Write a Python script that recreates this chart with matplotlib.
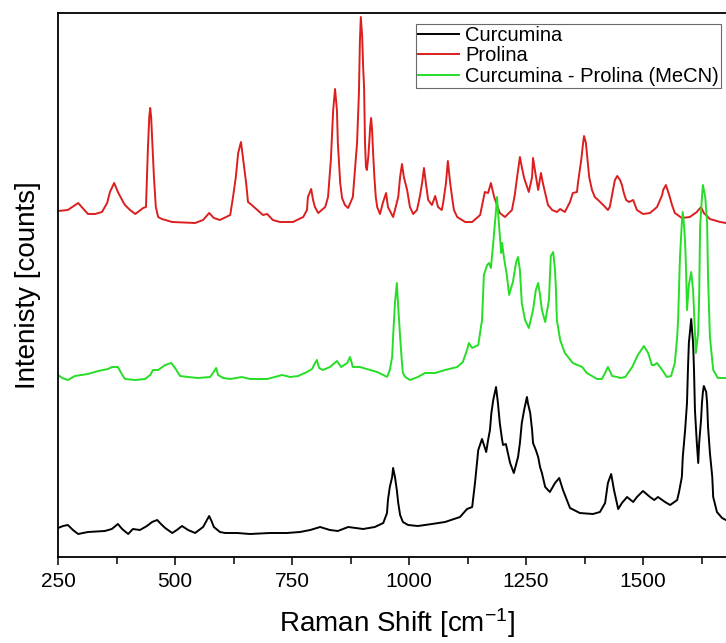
import matplotlib
matplotlib.use("Agg")
import matplotlib.pyplot as plt
from matplotlib.ticker import MultipleLocator

plt.rcParams['font.family'] = ['Liberation Sans', 'DejaVu Sans']
plt.rcParams['mathtext.default'] = 'regular'

# Raman spectra as (wavenumber cm^-1, intensity a.u.) pairs, offset stacked
prolina = [
    (250, 346), (271, 347), (293, 354), (314, 343), (329, 343), (344, 345), (355, 354),
    (361, 365), (370, 374), (378, 365), (387, 357), (393, 352), (404, 347), (415, 343),
    (432, 349), (438, 350), (442, 407), (445, 440), (447, 449), (449, 440), (451, 420),
    (455, 380), (459, 350), (464, 340), (472, 338), (494, 335), (543, 334), (560, 337),
    (573, 344), (583, 339), (596, 337), (618, 342), (624, 360), (630, 380), (635, 404),
    (641, 415), (645, 400), (652, 374), (656, 355), (664, 352), (688, 342), (697, 343),
    (709, 337), (724, 335), (752, 335), (774, 340), (782, 347), (784, 360), (791, 368),
    (795, 357), (799, 350), (806, 344), (821, 350), (827, 360), (833, 397), (838, 447),
    (842, 468), (846, 447), (848, 414), (853, 374), (857, 359), (863, 352), (870, 349),
    (880, 360), (889, 414), (893, 464), (895, 514), (897, 540), (900, 520), (902, 490),
    (904, 470), (906, 414), (908, 390), (910, 387), (913, 400), (915, 414), (917, 430),
    (919, 439), (921, 428), (923, 407), (926, 380), (929, 360), (932, 350), (938, 343),
    (944, 354), (951, 364), (955, 350), (966, 340), (970, 347), (977, 360), (981, 380),
    (985, 393), (989, 380), (996, 367), (1002, 350), (1009, 343), (1017, 347), (1023, 360),
    (1028, 374), (1032, 389), (1036, 374), (1041, 357), (1049, 352), (1056, 361),
    (1062, 350), (1070, 347), (1073, 354), (1079, 374), (1083, 396), (1088, 374),
    (1092, 360), (1096, 347), (1103, 340), (1120, 335), (1135, 335), (1152, 342),
    (1162, 365), (1169, 364), (1175, 374), (1182, 360), (1194, 344), (1205, 340),
    (1220, 347), (1226, 362), (1231, 380), (1237, 400), (1241, 390), (1246, 379),
    (1256, 365), (1263, 380), (1265, 399), (1269, 387), (1276, 367), (1282, 384),
    (1286, 374), (1291, 364), (1297, 352), (1306, 347), (1316, 345), (1323, 348),
    (1333, 345), (1344, 355), (1350, 364), (1359, 365), (1361, 374), (1368, 397),
    (1372, 414), (1374, 421), (1378, 414), (1380, 404), (1385, 380), (1391, 367),
    (1397, 360), (1404, 357), (1415, 352), (1425, 347), (1429, 350), (1436, 367),
    (1440, 377), (1445, 381), (1451, 377), (1455, 372), (1459, 364), (1464, 357),
    (1470, 355), (1479, 357), (1487, 347), (1500, 343), (1515, 344), (1530, 350),
    (1541, 362), (1543, 367), (1549, 372), (1551, 369), (1556, 362), (1562, 352),
    (1568, 344), (1583, 339), (1600, 340), (1615, 345), (1624, 350), (1630, 344),
    (1643, 338), (1665, 335), (1677, 334),
]

curcumina_prolina_mecn = [
    (250, 182), (259, 179), (271, 177), (286, 181), (314, 183), (336, 186), (357, 188),
    (365, 190), (372, 190), (378, 190), (385, 184), (393, 178), (415, 177), (436, 178),
    (447, 182), (453, 187), (464, 187), (479, 192), (492, 194), (500, 189), (511, 181),
    (528, 180), (549, 179), (575, 180), (581, 184), (588, 189), (592, 182), (603, 179),
    (618, 178), (643, 180), (660, 178), (697, 178), (729, 182), (746, 180), (763, 181),
    (782, 185), (793, 188), (797, 192), (803, 197), (808, 189), (816, 187), (831, 190),
    (846, 196), (855, 190), (868, 194), (874, 200), (880, 190), (895, 190), (910, 188),
    (932, 185), (945, 182), (953, 180), (959, 187), (964, 200), (966, 220), (970, 254),
    (974, 274), (977, 250), (981, 220), (985, 194), (987, 184), (992, 180), (1002, 177),
    (1019, 180), (1034, 184), (1056, 184), (1077, 187), (1103, 190), (1115, 195),
    (1124, 207), (1128, 214), (1135, 209), (1148, 212), (1156, 237), (1160, 282),
    (1167, 292), (1171, 294), (1175, 289), (1180, 314), (1186, 347), (1188, 360),
    (1192, 334), (1197, 304), (1199, 314), (1203, 299), (1209, 282), (1214, 262),
    (1218, 269), (1222, 275), (1229, 295), (1233, 300), (1237, 287), (1241, 254),
    (1248, 237), (1256, 229), (1265, 247), (1271, 267), (1276, 274), (1280, 262),
    (1284, 247), (1291, 235), (1299, 257), (1303, 301), (1308, 305), (1312, 287),
    (1314, 267), (1316, 237), (1323, 217), (1333, 204), (1350, 194), (1370, 190),
    (1380, 184), (1402, 178), (1412, 178), (1419, 184), (1425, 190), (1434, 181),
    (1445, 180), (1451, 179), (1462, 180), (1477, 190), (1489, 202), (1502, 211),
    (1511, 204), (1519, 192), (1524, 192), (1530, 194), (1541, 187), (1551, 180),
    (1560, 181), (1568, 194), (1573, 220), (1575, 237), (1577, 270), (1579, 300),
    (1583, 334), (1585, 345), (1588, 330), (1590, 314), (1592, 287), (1594, 247),
    (1598, 272), (1603, 285), (1607, 267), (1613, 204), (1618, 225), (1620, 260),
    (1622, 330), (1626, 360), (1628, 372), (1633, 360), (1637, 334), (1639, 280),
    (1643, 220), (1650, 187), (1660, 179), (1677, 179),
]

curcumina = [
    (250, 29), (261, 31), (271, 32), (282, 27), (293, 23), (314, 25), (350, 26), (365, 28),
    (378, 33), (387, 28), (400, 23), (410, 28), (425, 27), (440, 31), (451, 35), (462, 37),
    (470, 33), (479, 29), (494, 24), (504, 27), (515, 31), (528, 27), (543, 24), (560, 30),
    (567, 36), (573, 41), (578, 36), (583, 30), (596, 25), (607, 24), (633, 24), (660, 23),
    (703, 24), (739, 24), (767, 25), (789, 27), (810, 30), (831, 27), (848, 26), (870, 30),
    (902, 28), (927, 30), (945, 34), (953, 44), (955, 57), (959, 70), (964, 80), (966, 89),
    (970, 80), (974, 67), (977, 54), (981, 42), (987, 35), (998, 32), (1019, 31),
    (1049, 33), (1077, 35), (1109, 40), (1124, 48), (1135, 50), (1141, 74), (1148, 107),
    (1156, 118), (1165, 105), (1169, 117), (1173, 127), (1176, 144), (1180, 157),
    (1186, 170), (1190, 154), (1194, 134), (1199, 117), (1201, 112), (1207, 113),
    (1216, 94), (1224, 84), (1233, 100), (1237, 114), (1241, 134), (1246, 147),
    (1252, 160), (1254, 154), (1259, 144), (1263, 127), (1265, 114), (1271, 107),
    (1276, 100), (1280, 90), (1284, 84), (1291, 70), (1301, 65), (1312, 74), (1321, 79),
    (1329, 67), (1344, 49), (1365, 44), (1393, 43), (1408, 45), (1419, 54), (1425, 74),
    (1432, 83), (1438, 67), (1447, 48), (1455, 54), (1466, 60), (1479, 55), (1487, 60),
    (1500, 66), (1515, 60), (1524, 57), (1532, 60), (1547, 55), (1558, 52), (1573, 57),
    (1577, 65), (1583, 80), (1585, 100), (1590, 127), (1594, 154), (1596, 187),
    (1598, 214), (1603, 238), (1607, 214), (1609, 187), (1611, 147), (1615, 114),
    (1618, 94), (1620, 114), (1624, 137), (1626, 154), (1628, 165), (1630, 171),
    (1635, 165), (1637, 154), (1639, 130), (1643, 104), (1648, 80), (1650, 60),
    (1658, 45), (1669, 39), (1677, 37),
]

series_labels = ["Curcumina", "Prolina", "Curcumina - Prolina (MeCN)"]
series_colors = ["#000000", "#dc1e1e", "#26de26"]

xticks_major = [250, 500, 750, 1000, 1250, 1500]

fig = plt.figure(figsize=(7.26, 6.43), dpi=100)
# the plotting area runs past the right edge of the canvas
x_lo, x_hi = 250, 1700
ax_left = 58 / 726
ax_bottom = 86 / 643
ax_height = (557 - 13) / 643
ax_width = (x_hi - x_lo) * (117 / 250) / 726
ax = fig.add_axes([ax_left, ax_bottom, ax_width, ax_height])

lines = []
for spectrum, lab, col in [(curcumina, series_labels[0], series_colors[0]),
                           (prolina, series_labels[1], series_colors[1]),
                           (curcumina_prolina_mecn, series_labels[2], series_colors[2])]:
    xs, ys = zip(*spectrum)
    ln, = ax.plot(xs, ys, color=col, lw=1.4, label=lab, solid_joinstyle='round')
    lines.append(ln)

ax.set_xticks(xticks_major)
ax.xaxis.set_minor_locator(MultipleLocator(125))
ax.set_yticks([])
ax.set_xlim(x_lo, x_hi)
ax.set_ylim(0, 544)
ax.tick_params(axis='x', which='major', direction='out', length=6, width=1.1,
               labelsize=15, pad=5)
ax.tick_params(axis='x', which='minor', direction='out', length=5, width=1.1)
for sp in ax.spines.values():
    sp.set_linewidth(1.3)

ax.set_xlabel("Raman Shift [cm$^{-1}$]", fontsize=20, labelpad=11)
ax.set_ylabel("Intenisty [counts]", fontsize=20, labelpad=12)

leg = ax.legend(handles=lines, loc='upper right',
                bbox_to_anchor=(721 / 726, 1 - 24 / 643), bbox_transform=fig.transFigure,
                fontsize=14.5, frameon=True, fancybox=False, borderpad=0.1,
                handlelength=2.05, handletextpad=0.3, labelspacing=0.07,
                borderaxespad=0)
leg.get_frame().set_edgecolor('#444444')
leg.get_frame().set_linewidth(0.8)
for ln in leg.get_lines():
    ln.set_linewidth(1.4)

fig.savefig("out.png", dpi=100)
